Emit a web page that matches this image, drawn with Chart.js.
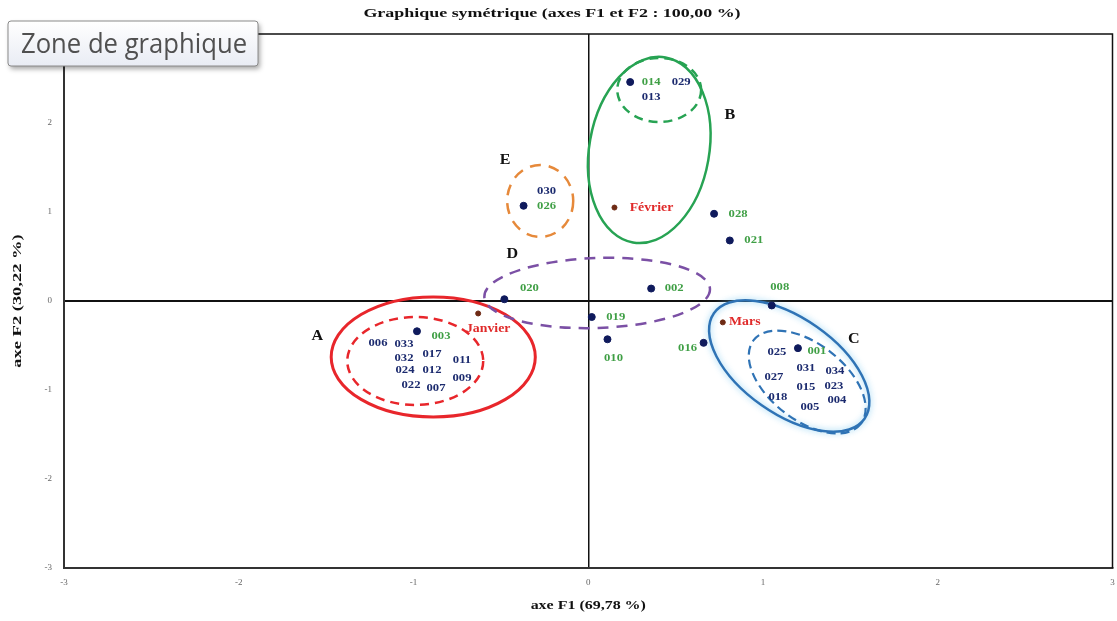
<!DOCTYPE html>
<html>
<head>
<meta charset="utf-8">
<script src="https://cdn.jsdelivr.net/npm/chart.js@4.4.1/dist/chart.umd.min.js"></script>
<style>
  html, body { margin: 0; padding: 0; background: #ffffff; }
  #wrap { width: 1117px; height: 621px; position: relative; }
</style>
</head>
<body>
<div id="wrap"><canvas id="c" width="1117" height="621"></canvas></div>
<script>
// Row points (observations) on the F1 / F2 plane
const pointNames = ['003', '020', '030', '014', '028', '021', '002', '019', '010', '008', '016', '001'];
const pointF1 = [-0.98, -0.48, -0.37, 0.24, 0.72, 0.81, 0.36, 0.02, 0.11, 1.05, 0.66, 1.20];
const pointF2 = [-0.34, 0.02, 1.07, 2.46, 0.98, 0.68, 0.14, -0.18, -0.43, -0.05, -0.47, -0.53];

// Column points (months)
const monthNames = ['Janvier', 'Février', 'Mars'];
const monthF1 = [-0.63, 0.15, 0.77];
const monthF2 = [-0.14, 1.05, -0.24];

// Observations sitting on the same coordinates as a plotted point
const sharedWith003 = ['006', '033', '032', '017', '011', '024', '012', '009', '022', '007'];
const sharedWith001 = ['025', '031', '034', '027', '015', '023', '018', '005', '004'];
const sharedWith014 = ['029', '013'];
const sharedWith030 = ['026'];

// Group regions A–E (centre, semi-axes in axis units, tilt in degrees)
const regionGroup = ['A', 'A', 'B', 'B', 'C', 'C', 'D', 'E'];
const regionF1 = [-0.887, -0.990, 0.349, 0.406, 1.150, 1.253, 0.051, -0.275];
const regionF2 = [-0.629, -0.674, 1.697, 2.371, -0.730, -0.910, 0.090, 1.124];
const regionR1 = [0.584, 0.389, 0.343, 0.240, 0.526, 0.389, 0.646, 0.189];
const regionR2 = [0.674, 0.494, 1.056, 0.360, 0.539, 0.427, 0.393, 0.404];
const regionTilt = [0, 0, 10, 0, 35, 38, -2, 0];

// Axis ticks
const tickValues = [-3, -2, -1, 0, 1, 2, 3];

// ---------- styling / layout ----------
const NAVY = '#1b2a6e';
const GREEN = '#3f9f45';
const RED = '#e02a2a';
const SERIF = '"Liberation Serif", "Times New Roman", serif';
const SX = 1.15; // horizontal stretch of the serif lettering

const regionStyle = [
  { color: '#e8262b', width: 3,   dash: [] },
  { color: '#e8262b', width: 2.5, dash: [9, 6] },
  { color: '#27a353', width: 2.5, dash: [] },
  { color: '#27a353', width: 2.5, dash: [9, 6] },
  { color: '#2f73b5', width: 2.5, dash: [], glow: 'rgba(120,200,240,0.9)' },
  { color: '#2f73b5', width: 2.2, dash: [9, 5] },
  { color: '#7b50a5', width: 2.5, dash: [11, 8] },
  { color: '#e6893a', width: 2.5, dash: [11, 8] }
];

// Label placement relative to the anchor point, in pixels
const greenLabels = new Set(['003', '020', '026', '014', '028', '021', '002', '019', '010', '008', '016', '001']);
const labelOffsets = {
  '003': [24, 5], '006': [-39, 12], '033': [-13, 13], '032': [-13, 27], '017': [15, 23],
  '011': [45, 29], '024': [-12, 39], '012': [15, 39], '009': [45, 47], '022': [-6, 54], '007': [19, 57],
  '001': [19, 3], '025': [-21, 4], '031': [8, 20], '034': [37, 23], '027': [-24, 29],
  '015': [8, 39], '023': [36, 38], '018': [-20, 49], '005': [12, 59], '004': [39, 52],
  '014': [21, 0], '029': [51, 0], '013': [21, 15],
  '030': [23, -15], '026': [23, 0],
  '020': [25, -11], '028': [24, 0], '021': [24, 0], '002': [23, 0], '019': [24, 0],
  '010': [6, 19], '008': [8, -18], '016': [-16, 5]
};
const monthOffsets = { 'Janvier': [10, 15], 'Février': [37, 0], 'Mars': [22, 0] };
const groupLetterPos = { A: [-1.55, -0.40], B: [0.81, 2.08], C: [1.52, -0.43], D: [-0.435, 0.52], E: [-0.475, 1.58] };

function drawText(ctx, text, x, y, font, color, sx, align) {
  ctx.save();
  ctx.font = font;
  ctx.fillStyle = color;
  ctx.textAlign = align || 'center';
  ctx.textBaseline = 'middle';
  ctx.translate(x, y);
  ctx.scale(sx, 1);
  ctx.fillText(text, 0, 0);
  ctx.restore();
}

const regionsPlugin = {
  id: 'regions',
  beforeDatasetsDraw(chart) {
    const { ctx, scales: { x, y } } = chart;
    const ux = x.getPixelForValue(1) - x.getPixelForValue(0);
    const uy = y.getPixelForValue(0) - y.getPixelForValue(1);
    regionGroup.forEach((g, i) => {
      const st = regionStyle[i];
      ctx.save();
      ctx.beginPath();
      ctx.ellipse(x.getPixelForValue(regionF1[i]), y.getPixelForValue(regionF2[i]),
        regionR1[i] * ux, regionR2[i] * uy, regionTilt[i] * Math.PI / 180, 0, Math.PI * 2);
      ctx.strokeStyle = st.color;
      ctx.lineWidth = st.width;
      ctx.setLineDash(st.dash);
      if (st.glow) { ctx.shadowColor = st.glow; ctx.shadowBlur = 6; }
      ctx.stroke();
      ctx.restore();
    });
  }
};

const labelsPlugin = {
  id: 'pointLabels',
  afterDatasetsDraw(chart) {
    const { ctx, scales: { x, y } } = chart;
    const font = 'bold 11px ' + SERIF;
    const groups = { '003': sharedWith003, '001': sharedWith001, '014': sharedWith014, '030': sharedWith030 };
    pointNames.forEach((name, i) => {
      const px = x.getPixelForValue(pointF1[i]);
      const py = y.getPixelForValue(pointF2[i]);
      [name].concat(groups[name] || []).forEach(lbl => {
        const off = labelOffsets[lbl];
        drawText(ctx, lbl, px + off[0], py + off[1], font, greenLabels.has(lbl) ? GREEN : NAVY, SX);
      });
    });
    monthNames.forEach((m, i) => {
      const off = monthOffsets[m];
      drawText(ctx, m, x.getPixelForValue(monthF1[i]) + off[0], y.getPixelForValue(monthF2[i]) + off[1],
        'bold 12px ' + SERIF, RED, SX);
    });
    Object.keys(groupLetterPos).forEach(k => {
      const p = groupLetterPos[k];
      drawText(ctx, k, x.getPixelForValue(p[0]), y.getPixelForValue(p[1]), 'bold 14px ' + SERIF, '#111', SX);
    });
  },
  afterDraw(chart) {
    const { ctx, chartArea: a } = chart;
    // frame on the top and right sides
    ctx.save();
    ctx.strokeStyle = '#111';
    ctx.lineWidth = 1.5;
    ctx.beginPath();
    ctx.moveTo(a.left, a.top); ctx.lineTo(a.right, a.top); ctx.lineTo(a.right, a.bottom);
    ctx.stroke();
    ctx.restore();
    // titles
    drawText(ctx, 'Graphique symétrique (axes F1 et F2 : 100,00 %)', 552, 14, 'bold 13px ' + SERIF, '#111', 1.38);
    drawText(ctx, 'axe F1 (69,78 %)', (a.left + a.right) / 2, 606, 'bold 12px ' + SERIF, '#111', 1.33);
    ctx.save();
    ctx.translate(18, 301);
    ctx.rotate(-Math.PI / 2);
    drawText(ctx, 'axe F2 (30,22 %)', 0, 0, 'bold 13px ' + SERIF, '#111', 1.42);
    ctx.restore();
    // chart-area tooltip
    ctx.save();
    ctx.shadowColor = 'rgba(0,0,0,0.35)';
    ctx.shadowBlur = 5;
    ctx.shadowOffsetX = 2;
    ctx.shadowOffsetY = 3;
    const bx = 8, by = 21, bw = 250, bh = 45;
    const grad = ctx.createLinearGradient(0, by, 0, by + bh);
    grad.addColorStop(0, '#ffffff');
    grad.addColorStop(1, '#e9ecf4');
    ctx.fillStyle = grad;
    ctx.beginPath();
    ctx.roundRect(bx, by, bw, bh, 3);
    ctx.fill();
    ctx.shadowColor = 'transparent';
    ctx.strokeStyle = '#8a8a8a';
    ctx.lineWidth = 1;
    ctx.stroke();
    ctx.restore();
    ctx.save();
    ctx.font = '27px "Open Sans", "Noto Sans", sans-serif';
    ctx.fillStyle = '#505050';
    ctx.textBaseline = 'alphabetic';
    ctx.translate(21, 53);
    ctx.scale(0.95, 1);
    ctx.fillText('Zone de graphique', 0, 0);
    ctx.restore();
  }
};

const zeroLine = (c) => (c.tick && c.tick.value === 0) ? '#111' : 'rgba(0,0,0,0)';

new Chart(document.getElementById('c'), {
  type: 'scatter',
  data: {
    datasets: [
      {
        label: 'Observations',
        data: pointNames.map((n, i) => ({ x: pointF1[i], y: pointF2[i] })),
        backgroundColor: '#0f1a5c',
        borderColor: '#0f1a5c',
        pointRadius: 3.5,
        pointHoverRadius: 3.5
      },
      {
        label: 'Mois',
        data: monthNames.map((n, i) => ({ x: monthF1[i], y: monthF2[i] })),
        backgroundColor: '#6e2a14',
        borderColor: '#6e2a14',
        pointRadius: 2.5,
        pointHoverRadius: 2.5
      }
    ]
  },
  options: {
    responsive: false,
    animation: false,
    events: [],
    layout: { padding: { top: 34, right: 4, left: 0, bottom: 0 } },
    plugins: { legend: { display: false }, tooltip: { enabled: false }, title: { display: false } },
    scales: {
      x: {
        type: 'linear', min: -3, max: 3,
        afterBuildTicks: (s) => { s.ticks = tickValues.map(v => ({ value: v })); },
        afterFit: (s) => { s.height = 53; s.paddingLeft = 0; s.paddingRight = 0; },
        ticks: { color: '#666', font: { family: SERIF, size: 9 }, padding: 9 },
        grid: { color: zeroLine, lineWidth: 1.5, drawTicks: false },
        border: { display: true, color: '#333', width: 2 }
      },
      y: {
        type: 'linear', min: -3, max: 3,
        afterBuildTicks: (s) => { s.ticks = tickValues.map(v => ({ value: v })); },
        afterFit: (s) => { s.width = 64; s.paddingTop = 0; s.paddingBottom = 0; },
        ticks: { color: '#666', font: { family: SERIF, size: 9 }, padding: 12 },
        grid: { color: zeroLine, lineWidth: 2, drawTicks: false },
        border: { display: true, color: '#333', width: 2 }
      }
    }
  },
  plugins: [regionsPlugin, labelsPlugin]
});
</script>
</body>
</html>
